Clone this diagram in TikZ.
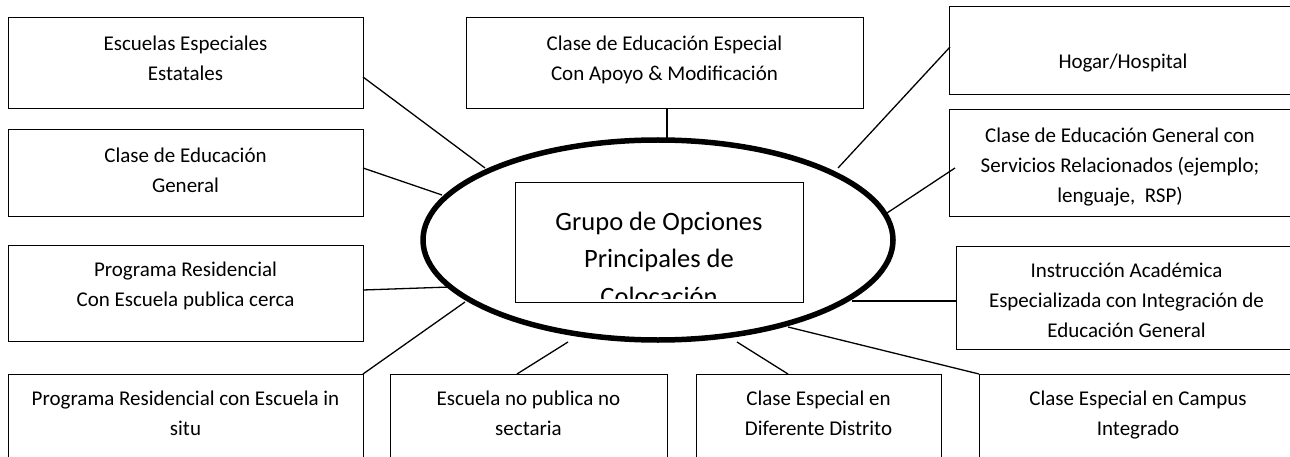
\documentclass[tikz,border=0pt]{standalone}
\usepackage{fontspec}
\setmainfont{Carlito}
\usetikzlibrary{shapes.geometric}
\begin{document}
\begin{tikzpicture}[x=1pt,y=-1pt,
  box/.style={draw, rectangle, line width=1pt, inner sep=0, outer sep=0, anchor=north west},
  openbox/.style={rectangle, inner sep=0, outer sep=0, anchor=north west},
  edge/.style={line width=1pt, line join=miter},
  lbl/.style={font=\fontsize{21}{30}\selectfont, align=center, inner sep=0, anchor=north},
  conn/.style={line width=1.3pt}]
\path[use as bounding box] (0,0) rectangle (1290,457);
\fill[white] (0,0) rectangle (1290,457);
% boxes
\node[box, minimum width=355pt, minimum height=91pt]  (b1)  at (8,18) {};
\node[box, minimum width=355pt, minimum height=87pt]  (b2)  at (8,130) {};
\node[box, minimum width=355pt, minimum height=96pt]  (b3)  at (8,245) {};
\node[openbox, minimum width=355pt, minimum height=100pt] (b4)  at (8,374) {};
\node[openbox, minimum width=277pt, minimum height=100pt] (b5)  at (390,374) {};
\node[openbox, minimum width=245pt, minimum height=100pt] (b6)  at (696,374) {};
\node[openbox, minimum width=320pt, minimum height=100pt] (b7)  at (979,374) {};
\node[openbox, minimum width=340pt, minimum height=103pt] (b8)  at (956,246) {};
\node[openbox, minimum width=345pt, minimum height=107pt] (b9)  at (949,110) {};
\node[openbox, minimum width=345pt, minimum height=88pt]  (b10) at (949,7) {};
\node[box, minimum width=397pt, minimum height=91pt]  (b11) at (466,18) {};
% visible sides of the cut-off boxes
\draw[edge] (b4.south west) -- (b4.north west) -- (b4.north east) -- (b4.south east);
\draw[edge] (b5.south west) -- (b5.north west) -- (b5.north east) -- (b5.south east);
\draw[edge] (b6.south west) -- (b6.north west) -- (b6.north east) -- (b6.south east);
\draw[edge] (b7.south west) -- (b7.north west) -- (1290,374);
\draw[edge] (1290,246) -- (b8.north west) -- (b8.south west) -- (1290,349);
\draw[edge] (1290,110) -- (b9.north west) -- (b9.south west) -- (1290,217);
\draw[edge] (1290,7) -- (b10.north west) -- (b10.south west) -- (1290,95);
% ellipse and inner box
\node[draw, ellipse, line width=5.5pt, minimum width=470pt, minimum height=200pt, inner sep=0, outer sep=0] (ell) at (658,240) {};
\node[box, minimum width=288pt, minimum height=119pt] (in) at (515,183) {};
% labels
\node[lbl] (t1)  at (185.5,29)  {\strut Escuelas Especiales\\Estatales};
\node[lbl] (t2)  at (185.5,141) {\strut Clase de Educación\\General};
\node[lbl] (t3)  at (185.5,255) {\strut Programa Residencial\\Con Escuela publica cerca};
\node[lbl] (t4)  at (185.5,384) {\strut Programa Residencial con Escuela in\\situ};
\node[lbl] (t5)  at (528.5,384) {\strut Escuela no publica no\\sectaria};
\node[lbl] (t6)  at (818.5,384) {\strut Clase Especial en\\Diferente Distrito};
\node[lbl] (t7)  at (1138,384)  {\strut Clase Especial en Campus\\Integrado};
\node[lbl] (t8)  at (1126.5,256) {\strut Instrucción Académica\\Especializada con Integración de\\Educación General};
\node[lbl] (t9)  at (1120,121)  {\strut Clase de Educación General con\\Servicios Relacionados (ejemplo;\\lenguaje,\ \ RSP)};
\node[lbl] (t10) at (1123,47)   {\strut Hogar/Hospital};
\node[lbl] (t11) at (664.5,29)  {\strut Clase de Educación Especial\\Con Apoyo \& Modificación};
\begin{scope}
\clip (516,184) rectangle (802,298);
\node[font=\fontsize{26.5}{37.5}\selectfont, align=center, inner sep=0, anchor=north] (tc) at (659,203.75)
  {\strut Grupo de Opciones\\Principales de\\Colocación};
\end{scope}
% connector free ends
\coordinate (e1)  at (485,168);
\coordinate (e2)  at (442,195);
\coordinate (e3)  at (450,287);
\coordinate (e4)  at (465,302);
\coordinate (e5)  at (568,342);
\coordinate (e6)  at (737,342);
\coordinate (e7)  at (788,327);
\coordinate (e8)  at (852,301);
\coordinate (e9)  at (887,213);
\coordinate (e10) at (838,168);
\coordinate (e11) at (667,138);
% connectors
\draw[conn] ([yshift=-13.5pt]b1.east) -- (e1);
\draw[conn] ([yshift=5.5pt]b2.east) -- (e2);
\draw[conn] ([yshift=3pt]b3.east) -- (e3);
\draw[conn] (b4.north east) -- (e4);
\draw[conn] ([xshift=-11.5pt]b5.north) -- (e5);
\draw[conn] ([xshift=-30.5pt]b6.north) -- (e6);
\draw[conn] (b7.north west) -- (e7);
\draw[conn] ([yshift=-3.5pt]b8.west) -- (e8);
\draw[conn] ([xshift=6pt,yshift=-4.5pt]b9.west) -- (e9);
\draw[conn] ([xshift=1pt,yshift=4pt]b10.west) -- (e10);
\draw[conn] ([xshift=2.5pt]b11.south) -- (e11);
\end{tikzpicture}
\end{document}
